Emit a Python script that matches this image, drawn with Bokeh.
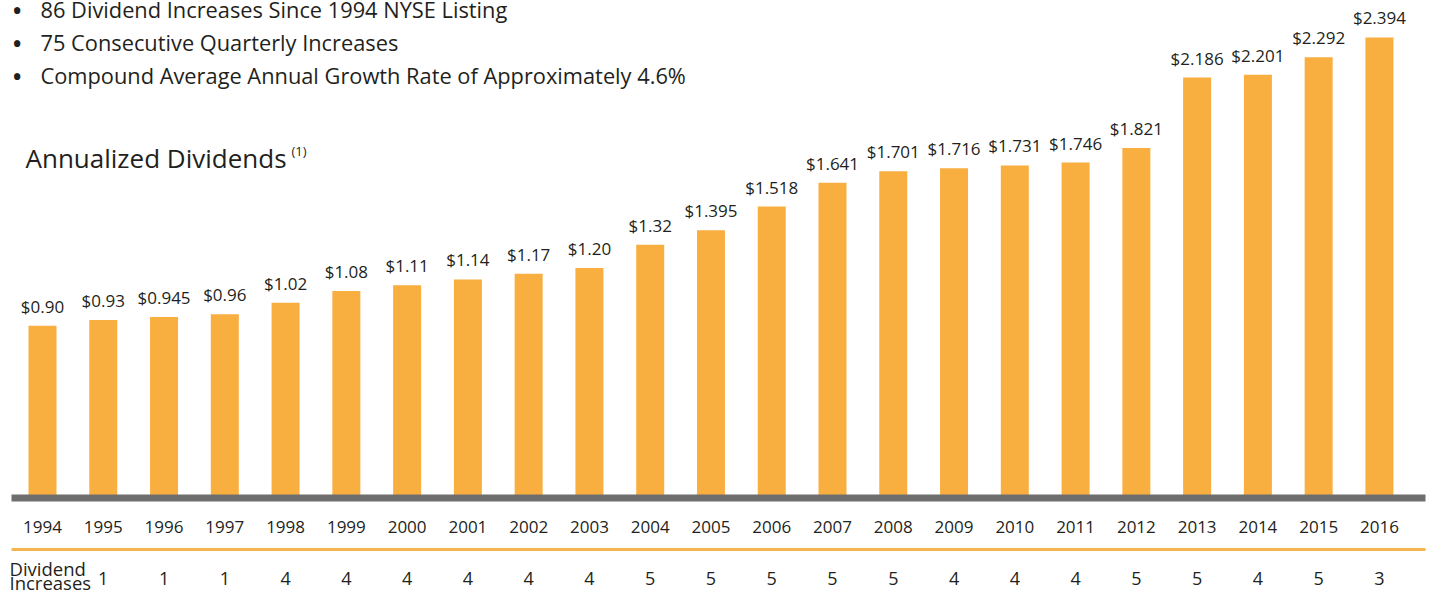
from bokeh.plotting import figure
from bokeh.models import Range1d, Label, BoxAnnotation, ColumnDataSource
from bokeh.core.properties import value
from bokeh.embed import file_html
from bokeh.resources import INLINE

years = [str(y) for y in range(1994, 2017)]
dividends = [0.90, 0.93, 0.945, 0.96, 1.02, 1.08, 1.11, 1.14, 1.17, 1.20, 1.32,
             1.395, 1.518, 1.641, 1.701, 1.716, 1.731, 1.746, 1.821, 2.186,
             2.201, 2.292, 2.394]
value_labels = ["$0.90", "$0.93", "$0.945", "$0.96", "$1.02", "$1.08", "$1.11",
                "$1.14", "$1.17", "$1.20", "$1.32", "$1.395", "$1.518", "$1.641",
                "$1.701", "$1.716", "$1.731", "$1.746", "$1.821", "$2.186",
                "$2.201", "$2.292", "$2.394"]
increase_years = [str(y) for y in range(1995, 2017)]
increases = [1, 1, 1, 4, 4, 4, 4, 4, 4, 5, 5, 5, 5, 5, 4, 4, 4, 5, 5, 4, 5, 3]
bullets = ["86 Dividend Increases Since 1994 NYSE Listing",
           "75 Consecutive Quarterly Increases",
           "Compound Average Annual Growth Rate of Approximately 4.6%"]

W, H = 1429, 593
FONT = "Open Sans"
DARK = "#231f20"
BAR = "#F9AE40"

step = 60.77
x0 = 42.0
px_per = 193.0
zero_y = 499.0  # from top

p = figure(width=W, height=H, output_backend="svg", toolbar_location=None,
           x_axis_type=None, y_axis_type=None,
           x_range=Range1d(-x0 / step, (W - x0) / step),
           y_range=Range1d(-(H - zero_y) / px_per, zero_y / px_per),
           min_border=0, min_border_left=0, min_border_right=0,
           min_border_top=0, min_border_bottom=0)
p.outline_line_color = None
p.grid.visible = False
p.background_fill_color = "white"
p.border_fill_color = "white"

idx = list(range(len(years)))
src = ColumnDataSource(dict(x=idx, top=dividends, lab=value_labels, yr=years))

p.vbar(x="x", top="top", bottom=0, width=28 / step, source=src,
       fill_color=BAR, line_color=None)

p.text(x="x", y="top", text="lab", source=src, y_offset=-8,
       text_align="center", text_baseline="bottom",
       text_font=value(FONT), text_font_size="17px", text_color=DARK)

# gray baseline band
p.add_layout(BoxAnnotation(left=11, right=1425, left_units="screen", right_units="screen",
                           top=H - 494, bottom=H - 501, top_units="screen", bottom_units="screen",
                           fill_color="#6e6e6e", fill_alpha=1.0, line_color=None))

# year labels
yr_y = -(526 - zero_y) / px_per
p.text(x="x", y=yr_y, text="yr", source=src, text_align="center",
       text_baseline="middle", text_font=value(FONT), text_font_size="17px",
       text_color=DARK)

# orange separator
p.add_layout(BoxAnnotation(left=11, right=1425, left_units="screen", right_units="screen",
                           top=H - 547.5, bottom=H - 550.5, top_units="screen", bottom_units="screen",
                           fill_color="#F4B44E", fill_alpha=1.0, line_color=None))

# dividend increases
inc_src = ColumnDataSource(dict(x=[years.index(y) for y in increase_years],
                                t=[str(v) for v in increases]))
inc_y = -(578 - zero_y) / px_per
p.text(x="x", y=inc_y, text="t", source=inc_src, text_align="center",
       text_baseline="middle", text_font=value(FONT), text_font_size="18px",
       text_color=DARK)

p.add_layout(Label(x=9, y=H - 568, x_units="screen", y_units="screen", text="Dividend",
                   text_font=FONT, text_font_size="18.5px", text_color=DARK,
                   text_baseline="middle", text_align="left"))
p.add_layout(Label(x=9, y=H - 582, x_units="screen", y_units="screen", text="Increases",
                   text_font=FONT, text_font_size="18.5px", text_color=DARK,
                   text_baseline="middle", text_align="left"))

# bullets
for i, b in enumerate(bullets):
    yc = 9 + i * 33
    p.add_layout(Label(x=11, y=H - yc, x_units="screen", y_units="screen", text="\u2022",
                       text_font=FONT, text_font_size="30px", text_color=DARK,
                       text_baseline="middle"))
    p.add_layout(Label(x=40, y=H - yc, x_units="screen", y_units="screen", text=b,
                       text_font=FONT, text_font_size="21.8px", text_color=DARK,
                       text_baseline="middle"))

p.add_layout(Label(x=25, y=H - 157, x_units="screen", y_units="screen",
                   text="Annualized Dividends", text_font=FONT, text_font_size="26px",
                   text_color=DARK, text_baseline="middle"))
p.add_layout(Label(x=291, y=H - 150, x_units="screen", y_units="screen",
                   text="(1)", text_font=FONT, text_font_size="13px",
                   text_color=DARK, text_baseline="middle"))

open("out.html", "w").write(file_html(p, INLINE))
